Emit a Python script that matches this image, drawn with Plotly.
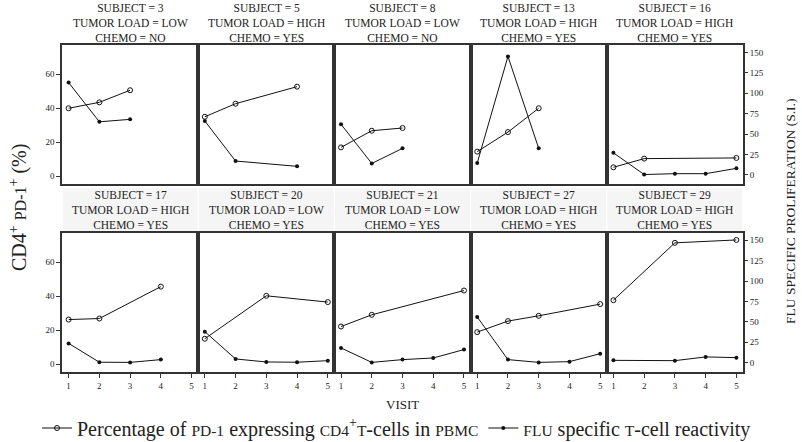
import plotly.graph_objects as go

subjects = [3, 5, 8, 13, 16, 17, 20, 21, 27, 29]
tumor_load = ["LOW", "HIGH", "LOW", "HIGH", "HIGH", "HIGH", "LOW", "LOW", "HIGH", "HIGH"]
chemo = ["NO", "YES", "NO", "YES", "YES", "YES", "YES", "YES", "YES", "YES"]

pd1_visits = [[1, 2, 3], [1, 2, 4], [1, 2, 3], [1, 2, 3], [1, 2, 5],
              [1, 2, 4], [1, 3, 5], [1, 2, 5], [1, 2, 3, 5], [1, 3, 5]]
pd1_values = [[40.0, 43.5, 50.6], [35.0, 42.7, 52.7], [17.0, 26.8, 28.4],
              [14.5, 26.0, 40.0], [5.3, 10.4, 10.8], [26.2, 26.8, 45.6],
              [14.9, 40.2, 36.5], [22.1, 29.0, 43.3], [18.8, 25.3, 28.4, 35.3],
              [37.6, 71.4, 73.1]]

flu_visits = [[1, 2, 3], [1, 2, 4], [1, 2, 3], [1, 2, 3], [1, 2, 3, 4, 5],
              [1, 2, 3, 4], [1, 2, 3, 4, 5], [1, 2, 3, 4, 5], [1, 2, 3, 4, 5], [1, 3, 4, 5]]
flu_values = [[113, 65, 68], [66, 17, 10.5], [62, 14, 32.5], [14.5, 145, 32.5],
              [27, 0.5, 1.5, 1.5, 8], [23.6, 0.5, 0.3, 3.7], [38, 4.5, 0.8, 0.5, 2.4],
              [18, 0.3, 3.7, 5.7, 16], [56, 3.7, 0.3, 1.2, 11], [2.8, 2.4, 7, 6.1]]

x_ticks = [1, 2, 3, 4, 5]
left_ticks = [0, 20, 40, 60]
right_ticks = [0, 25, 50, 75, 100, 125, 150]

FONT = "Liberation Serif, serif"
INK = "#222222"
W, H = 802, 442
ML, MR, MT, MB = 62, 59, 45, 70
PW, PH = W - ML - MR, H - MT - MB


def py(pix):
    return (H - MB - pix) / PH


fig = go.Figure()
layout = {}
annotations = []
shapes = []

row_domains = [[py(184.3), 1.0], [0.0, py(233)]]

for k, subj in enumerate(subjects):
    r, c = divmod(k, 5)
    xa = "x" if k == 0 else f"x{k + 1}"
    ya = "y" if k == 0 else f"y{k + 1}"
    ya2 = f"y{k + 11}"
    fig.add_trace(go.Scatter(
        x=pd1_visits[k], y=pd1_values[k], xaxis=xa, yaxis=ya,
        mode="lines+markers", name="pd1",
        line=dict(color="#111111", width=1),
        marker=dict(symbol="circle-open", size=5, color="#111111", line=dict(width=1)),
        showlegend=(k == 0), legendrank=1,
    ))
    fig.add_trace(go.Scatter(
        x=flu_visits[k], y=flu_values[k], xaxis=xa, yaxis=ya2,
        mode="lines+markers", name="flu",
        line=dict(color="#111111", width=1),
        marker=dict(symbol="circle", size=4, color="#111111"),
        showlegend=(k == 0), legendrank=2,
    ))
    xdom = [c / 5, (c + 1) / 5]
    xkey = "xaxis" if k == 0 else f"xaxis{k + 1}"
    ykey = "yaxis" if k == 0 else f"yaxis{k + 1}"
    y2key = f"yaxis{k + 11}"
    layout[xkey] = dict(
        domain=xdom, anchor=ya, range=[0.785, 5.215],
        showline=True, mirror=True, linecolor="#333333", linewidth=1.5,
        showgrid=False, zeroline=False,
        tickvals=x_ticks, ticks="outside" if r == 1 else "", ticklen=4,
        tickcolor="#333333", showticklabels=(r == 1),
        tickfont=dict(family=FONT, size=9, color=INK),
    )
    layout[ykey] = dict(
        domain=row_domains[r], anchor=xa, range=[-4.7, 77.2],
        showline=True, mirror=True, linecolor="#333333", linewidth=1.5,
        showgrid=False, zeroline=False,
        tickvals=left_ticks, ticks="outside" if c == 0 else "", ticklen=4,
        tickcolor="#333333", showticklabels=(c == 0),
        tickfont=dict(family=FONT, size=9, color=INK),
    )
    layout[y2key] = dict(
        overlaying=ya, anchor=xa, side="right", range=[-11.5, 159],
        showline=False, showgrid=False, zeroline=False,
        tickvals=right_ticks, ticks="outside" if c == 4 else "", ticklen=4,
        tickcolor="#333333", showticklabels=(c == 4),
        tickfont=dict(family=FONT, size=9, color=INK),
    )
    strip_center = 23 if r == 0 else 210
    annotations.append(dict(
        xref="paper", yref="paper", x=(c + 0.5) / 5, y=py(strip_center),
        xanchor="center", yanchor="middle", showarrow=False, align="center",
        text=f"SUBJECT = {subj}<br>TUMOR LOAD = {tumor_load[k]}<br>CHEMO = {chemo[k]}",
        font=dict(family=FONT, size=11.5, color=INK),
    ))
    if r == 1:
        shapes.append(dict(
            type="rect", xref="paper", yref="paper", layer="below",
            x0=c / 5 + 0.001, x1=(c + 1) / 5 - 0.001, y0=py(233), y1=py(188),
            fillcolor="#f5f5f5", line=dict(width=0),
        ))

annotations.append(dict(
    xref="paper", yref="paper", x=(18 - ML) / PW, y=py(208), textangle=-90,
    xanchor="center", yanchor="middle", showarrow=False,
    text="CD4<sup>+</sup> <span style='font-size:16px'>PD-1</span><sup>+</sup> (%)",
    font=dict(family=FONT, size=20, color=INK),
))
annotations.append(dict(
    xref="paper", yref="paper", x=(790 - ML) / PW, y=py(212), textangle=-90,
    xanchor="center", yanchor="middle", showarrow=False,
    text="FLU SPECIFIC PROLIFERATION (S.I.)",
    font=dict(family=FONT, size=13.5, color=INK),
))
annotations.append(dict(
    xref="paper", yref="paper", x=0.5, y=py(404),
    xanchor="center", yanchor="middle", showarrow=False,
    text="VISIT", font=dict(family=FONT, size=13, color=INK),
))

SC = "<span style='font-size:15.5px'>{}</span>"
fig.data[0].name = ("Percentage of " + SC.format("PD-1") + " expressing "
                    + SC.format("CD4") + "<sup>+</sup>" + SC.format("T") + "-cells in "
                    + SC.format("PBMC"))
fig.data[1].name = SC.format("FLU") + " specific " + SC.format("T") + "-cell reactivity"

fig.update_layout(
    width=W, height=H,
    margin=dict(l=ML, r=MR, t=MT, b=MB, pad=0, autoexpand=False),
    paper_bgcolor="white", plot_bgcolor="white",
    font=dict(family=FONT, color=INK),
    annotations=annotations, shapes=shapes,
    showlegend=True,
    legend=dict(
        orientation="h",
        x=(37 - ML) / PW, xanchor="left", y=py(428), yanchor="middle",
        font=dict(family=FONT, size=20, color=INK), itemwidth=30,
        bgcolor="rgba(0,0,0,0)", traceorder="normal",
    ),
    **layout,
)

fig.write_html("out.html", config={"displayModeBar": False},
               post_script="document.body.style.margin='0px';")
